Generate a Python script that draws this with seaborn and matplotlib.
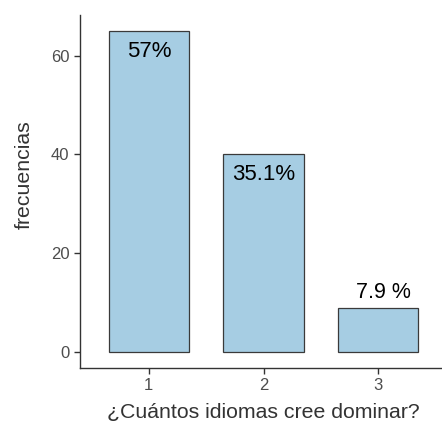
import pandas as pd
import matplotlib.pyplot as plt
import seaborn as sns

# data
idiomas = ["1", "2", "3"]
frecuencias = [65, 40, 9]
etiquetas = ["57%", "35.1%", "7.9 %"]
dentro = [True, True, False]  # label inside the bar or above it

df = pd.DataFrame({"idiomas": idiomas, "frecuencias": frecuencias})

sns.set_theme(style="ticks")
plt.rcParams["font.family"] = ["Liberation Sans", "DejaVu Sans"]

fig = plt.figure(figsize=(4.42, 4.32), dpi=100)
ax = fig.add_axes([80 / 442, 64 / 432, 367 / 442, 353 / 432])

sns.barplot(data=df, x="idiomas", y="frecuencias", color="#a6cde3",
            edgecolor="#3a3a3a", linewidth=0.9, width=0.7, saturation=1, ax=ax)

for i, (val, txt, inside) in enumerate(zip(frecuencias, etiquetas, dentro)):
    if inside:
        ax.annotate(txt, (i, val), xytext=(0, -7), textcoords="offset points",
                    ha="center", va="top", fontsize=16, color="black")
    else:
        ax.annotate(txt, (i, val), xytext=(4, 3), textcoords="offset points",
                    ha="center", va="bottom", fontsize=15.5, color="black")

ax.set_xlim(-0.6, 2.6)
ax.set_ylim(-3.25, 68.25)
ax.set_yticks([0, 20, 40, 60])
ax.set_xlabel("¿Cuántos idiomas cree dominar?", fontsize=15.3, color="#333333", labelpad=7)
ax.set_ylabel("frecuencias", fontsize=15.3, color="#333333")
ax.yaxis.set_label_coords(-0.127, 0.547)

for side in ["top", "right"]:
    ax.spines[side].set_visible(False)
for side in ["left", "bottom"]:
    ax.spines[side].set_color("#333333")
    ax.spines[side].set_linewidth(1.0)
ax.tick_params(axis="both", colors="#333333", labelcolor="#4d4d4d",
               labelsize=12, length=4, width=1.0)

fig.savefig("out.png", dpi=100)
